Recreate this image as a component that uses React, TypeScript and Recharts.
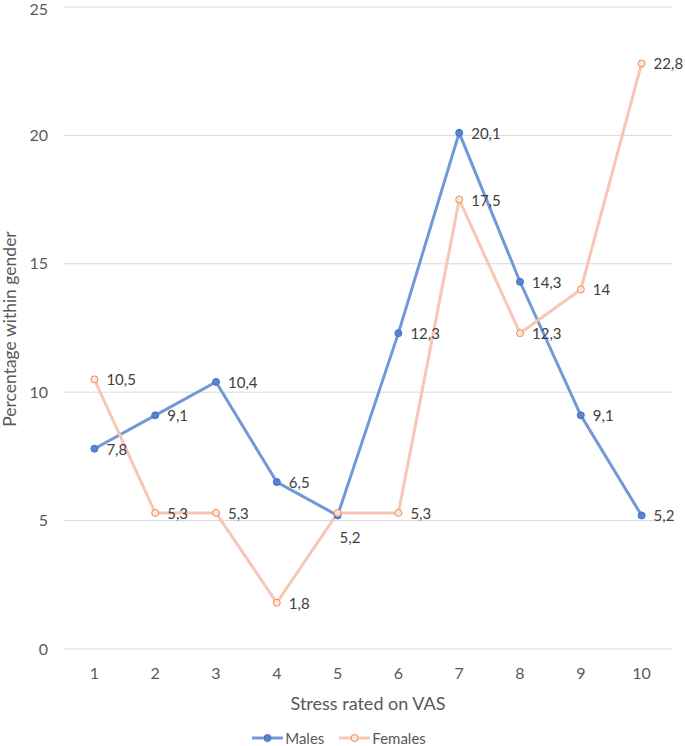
import React from "react";
import { LineChart, Line, XAxis, YAxis, CartesianGrid, Legend } from "recharts";

const stressLevels = ["1", "2", "3", "4", "5", "6", "7", "8", "9", "10"];
const malesValues = [7.8, 9.1, 10.4, 6.5, 5.2, 12.3, 20.1, 14.3, 9.1, 5.2];
const femalesValues = [10.5, 5.3, 5.3, 1.8, 5.3, 5.3, 17.5, 12.3, 14, 22.8];
const yTicks = [0, 5, 10, 15, 20, 25];

const data = stressLevels.map((s, i) => ({
  stress: s,
  males: malesValues[i],
  females: femalesValues[i],
}));

const FONT = "Lato, 'Open Sans', sans-serif";
const MALE_LINE = "#7398D8";
const MALE_MARK_FILL = "#5B83CE";
const MALE_MARK_STROKE = "#4472C4";
const FEMALE_LINE = "#F9C6B6";
const FEMALE_MARK_FILL = "#FCE6DA";
const FEMALE_MARK_STROKE = "#EE8A4F";

const fmt = (v: number) => String(v).replace(".", ",");

const makeLabel = (series: "males" | "females") => (props: any) => {
  const { x, y, value, index } = props;
  if (series === "females" && index === 4) return <g />;
  let dx = 12;
  let dy = 0;
  if (series === "males" && index === 4) {
    dx = 2;
    dy = 22;
  }
  return (
    <text
      x={x + dx}
      y={y + dy}
      dominantBaseline="central"
      fontSize={15}
      fontFamily={FONT}
      fill="#404040"
    >
      {fmt(value)}
    </text>
  );
};

const LegendContent = () => {
  const items = [
    { name: "Males", line: MALE_LINE, fill: MALE_MARK_FILL, stroke: MALE_MARK_STROKE },
    { name: "Females", line: FEMALE_LINE, fill: FEMALE_MARK_FILL, stroke: FEMALE_MARK_STROKE },
  ];
  return (
    <div style={{ display: "flex", justifyContent: "center", gap: 15, fontFamily: FONT, fontSize: 15, color: "#595959", marginLeft: -7 }}>
      {items.map((it) => (
        <div key={it.name} style={{ display: "flex", alignItems: "center" }}>
          <svg width={31} height={12}>
            <line x1={0} y1={6} x2={31} y2={6} stroke={it.line} strokeWidth={3} />
            <circle cx={15.5} cy={6} r={3.5} fill={it.fill} stroke={it.stroke} strokeWidth={1} />
          </svg>
          <span style={{ marginLeft: 2 }}>{it.name}</span>
        </div>
      ))}
    </div>
  );
};

export default function App() {
  return (
    <div style={{ position: "absolute", left: 0, top: 0, width: 685, height: 746, background: "#fff" }}>
      <LineChart
        width={685}
        height={746}
        data={data}
        margin={{ top: 7, right: 13, bottom: 36, left: 0 }}
      >
        <CartesianGrid vertical={false} stroke="#D9D9D9" strokeWidth={1} />
        <XAxis
          dataKey="stress"
          padding={{ left: 30.4, right: 30.4 }}
          axisLine={false}
          tickLine={false}
          tickSize={0}
          tickMargin={19}
          height={61}
          tick={{ fontSize: 16, fill: "#595959", fontFamily: FONT }}
          label={{
            value: "Stress rated on VAS",
            position: "insideBottom",
            offset: 0,
            fontSize: 18,
            fill: "#595959",
            fontFamily: FONT,
          }}
        />
        <YAxis
          domain={[0, 25]}
          ticks={yTicks}
          width={64}
          axisLine={false}
          tickLine={false}
          tickSize={0}
          tickMargin={16}
          tick={{ fontSize: 16, fill: "#595959", fontFamily: FONT }}
          label={{
            content: (p: any) => {
              const vb = p.viewBox || { x: 0, y: 7, width: 64, height: 642 };
              const cx = 9;
              const cy = vb.y + vb.height / 2 + 1;
              return (
                <text
                  x={cx}
                  y={cy}
                  transform={`rotate(-90 ${cx} ${cy})`}
                  textAnchor="middle"
                  dominantBaseline="central"
                  fontSize={17.5}
                  fill="#595959"
                  fontFamily={FONT}
                >
                  Percentage within gender
                </text>
              );
            },
          }}
        />
        <Legend
          verticalAlign="middle"
          layout="horizontal"
          content={<LegendContent />}
          wrapperStyle={{ position: "absolute", top: 729, left: 0, width: 685 }}
        />
        <Line
          type="linear"
          dataKey="males"
          name="Males"
          stroke={MALE_LINE}
          strokeWidth={3}
          dot={{ r: 3.5, fill: MALE_MARK_FILL, stroke: MALE_MARK_STROKE, strokeWidth: 1 }}
          activeDot={false}
          isAnimationActive={false}
          label={makeLabel("males")}
        />
        <Line
          type="linear"
          dataKey="females"
          name="Females"
          stroke={FEMALE_LINE}
          strokeWidth={3}
          dot={{ r: 3.5, fill: FEMALE_MARK_FILL, stroke: FEMALE_MARK_STROKE, strokeWidth: 1 }}
          activeDot={false}
          isAnimationActive={false}
          label={makeLabel("females")}
        />
      </LineChart>
    </div>
  );
}
